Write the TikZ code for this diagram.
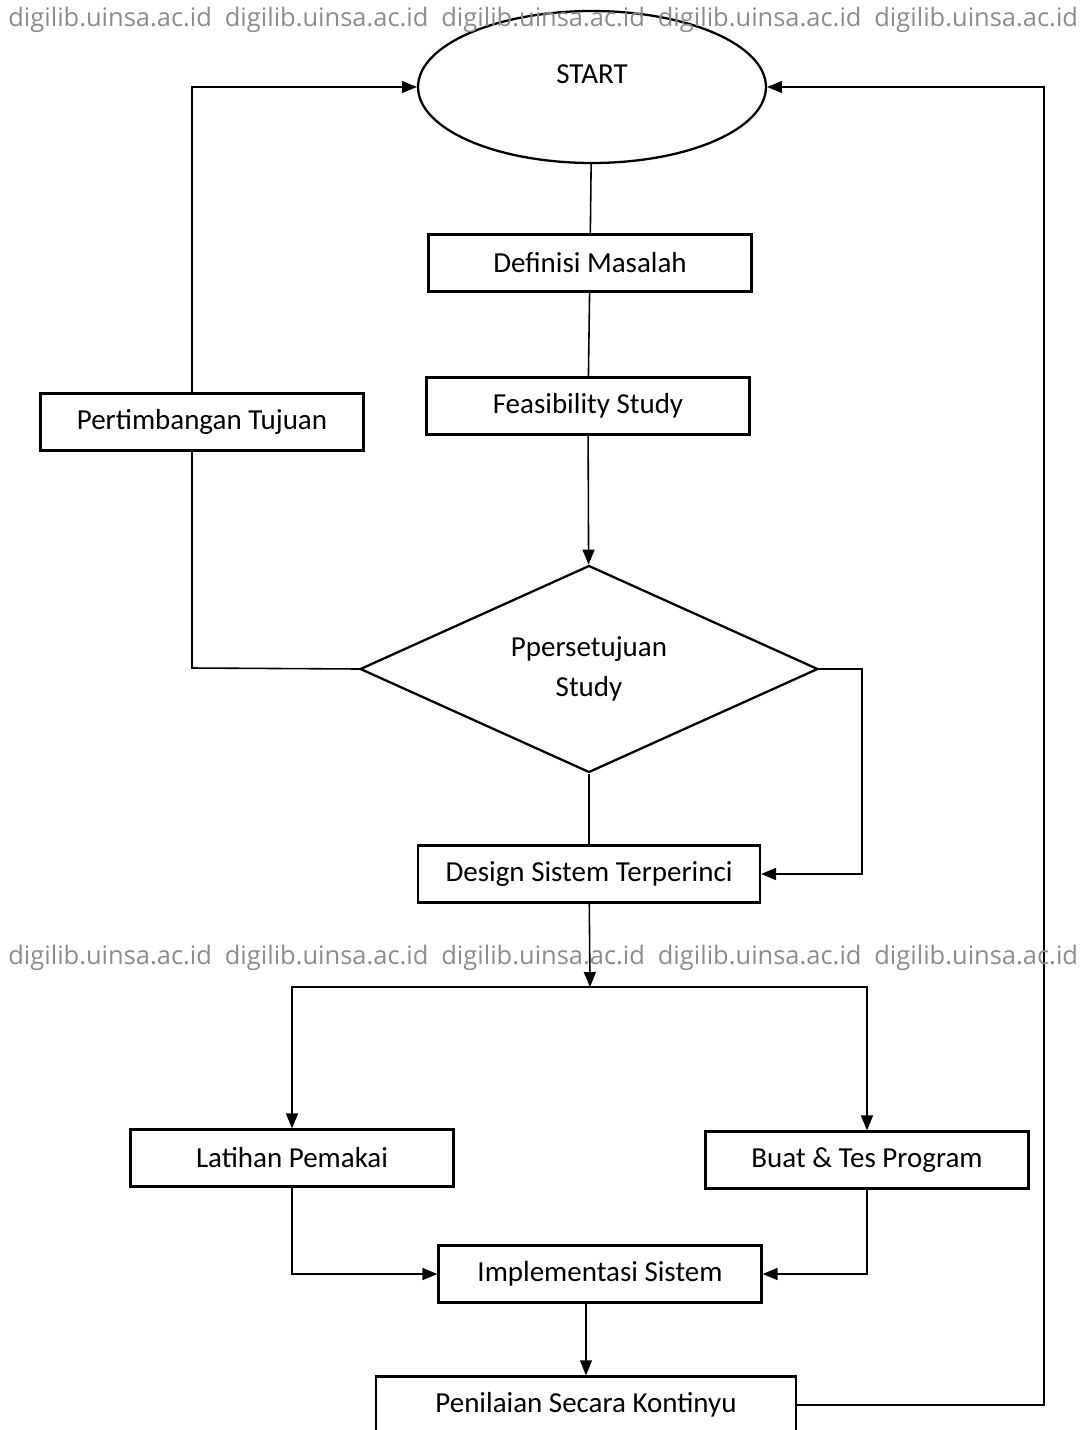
\documentclass[tikz,border=0pt]{standalone}
\usepackage{fontspec}
\setmainfont{Carlito}
\newfontfamily\wmfont{Open Sans}
\usetikzlibrary{shapes.geometric, arrows.meta, calc}

\begin{document}
\begin{tikzpicture}[x=0.02cm,y=-0.02cm,>={Triangle[length=0.3cm,width=0.24cm]},font=\fontsize{16.5}{20}\selectfont]

\tikzset{
  kotak/.style={draw,line width=1.3pt,minimum width=6.46cm,minimum height=1.14cm,inner sep=0pt},
  garis/.style={line width=0.9pt},
  wm/.style={text=black!45,font=\wmfont\fontsize{14.5}{16}\selectfont,inner sep=0pt,anchor=west},
}

% ---- batas gambar ----
\useasboundingbox (0,0) rectangle (1091,1430);

% ---- start ----
\node[draw,ellipse,line width=1.3pt,minimum width=6.96cm,minimum height=3.04cm] (start) at (592,87) {};
\node (starttxt) at (592,74) {START};

% ---- kotak utama ----
\node[kotak] (definisi) at (590,263) {Definisi Masalah};
\node[kotak] (feas) at (588,406) {Feasibility Study};
\node[kotak] (tujuan) at (202,422) {Pertimbangan Tujuan};

% ---- keputusan ----
\node[draw,diamond,line width=1.3pt,aspect=2.2,minimum width=9.16cm,minimum height=4.14cm,inner sep=0pt,align=center] (setuju) at (589,669) {Ppersetujuan\\[3pt]Study};

\node[kotak,minimum width=6.84cm] (design) at (589,874) {Design Sistem Terperinci};
\node[kotak] (latihan) at (292,1158) {Latihan Pemakai};
\node[kotak] (buat) at (867,1160) {Buat \& Tes Program};
\node[kotak] (impl) at (600,1274) {Implementasi Sistem};
\node[kotak,minimum width=8.4cm] (nilai) at (586,1405) {Penilaian Secara Kontinyu};

% titik bantu
\coordinate (kiri) at (192,668);
\coordinate (cabang) at (590,987);

% ---- alur tengah ----
\draw[garis] (start) -- (definisi);
\draw[garis] (definisi) -- (feas);
\draw[garis,->] (feas) -- (setuju);
\draw[garis] (setuju) -- (design);

% ---- loop kiri ----
\draw[garis] (setuju.west) -- (kiri) -- (kiri |- tujuan.south);
\draw[garis,->] (kiri |- tujuan.north) |- (start.west);

% ---- loop kanan ----
\draw[garis,->] (setuju.east) -- ++(43,0) |- (design.east);
\draw[garis,->] (nilai.east) -| ($(start.east)+(277,0)$) -- (start.east);

% ---- cabang ----
\draw[garis,->] (design) -- (cabang);
\draw[garis,->] (cabang) -| (latihan);
\draw[garis,->] (cabang) -| (buat);
\draw[garis,->] (latihan) |- (impl);
\draw[garis,->] (buat) |- (impl);
\draw[garis,->] (impl.south -| nilai.north) -- (nilai);

% ---- watermark ----
\foreach \i in {0,...,4} {
  \node[wm] (wmA\i) at (8+\i*216.5,20) {digilib.uinsa.ac.id};
  \node[wm] (wmB\i) at (8+\i*216.5,958) {digilib.uinsa.ac.id};
}

\end{tikzpicture}
\end{document}
